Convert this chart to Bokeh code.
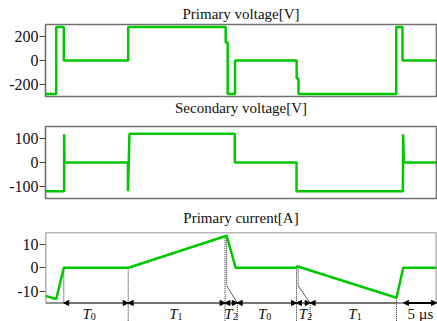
from bokeh.plotting import figure
from bokeh.layouts import column
from bokeh.models import (Range1d, FixedTicker, Arrow, NormalHead, ColumnDataSource,
                          PrintfTickFormatter, Title)
from bokeh.core.properties import value
from bokeh.embed import file_html
from bokeh.resources import INLINE

FONT = "Liberation Serif"
GREEN = "#00c800"
FRAME = "#707070"

# time axis in microseconds
t_start, t_end = 0.0, 59.24

# Primary voltage [V]
t_primary = [0, 1.62, 1.62, 2.77, 2.77, 12.53, 12.53, 27.3, 27.3, 27.6, 27.6, 28.72, 28.72,
             38.05, 38.05, 38.33, 38.33, 53.14, 53.14, 54.09, 54.09, 59.24]
v_primary = [-280, -280, 280, 280, 0, 0, 280, 280, 150, 150, -280, -280, 0,
             0, -150, -150, -280, -280, 280, 280, 0, 0]

# Secondary voltage [V]
t_secondary = [0, 2.83, 2.83, 2.88, 12.5, 12.5, 12.72, 28.68, 28.68, 38.03, 38.03,
               54.15, 54.18, 54.3, 59.24]
v_secondary = [-120, -120, 118, 0, 0, -120, 120, 120, 0, 0, -120,
               -120, 118, 0, 0]

# Primary current [A]
t_current = [0, 1.62, 2.77, 12.58, 27.2, 27.45, 28.8, 38.0, 38.12, 53.18, 54.2, 59.24]
i_current = [-12, -13.3, 0, 0, 13.4, 13.7, 0, 0, 0.6, -12.8, 0, 0]

titles = ["Primary voltage[V]", "Secondary voltage[V]", "Primary current[A]"]

# interval annotations (µs)
dim_start = [2.77, 12.53, 27.2, 29.05, 38.03]
dim_end = [12.53, 27.2, 29.05, 38.03, 40.1]
open_start, open_end = [40.1], [53.18]
scale_start, scale_end = [54.24], [59.24]
label_names = ["0", "1", "2", "0", "2", "1"]
label_x = [6.7, 19.85, 28.2, 33.3, 39.5, 47.0]
scale_label = "5 µs"
scale_label_x = 56.8

# dotted guide lines: x, top value, bottom value
guide_x = [2.77, 12.53, 27.2, 27.45, 29.05, 38.03, 38.28, 40.1, 53.18]
guide_top = [0, 0, 13.4, 13.7, -15, 0, 0.5, -15, -12.8]
guide_bot = [-15, -23, -23, -7.7, -23, -23, -7.7, -23, -23]
# leader lines
leader_x0 = [27.45, 38.28]
leader_y0 = [-7.7, -7.7]
leader_x1 = [29.05, 40.1]
leader_y1 = [-15, -15]


def style_title(t, standoff):
    t.align = "center"
    t.text_font = FONT
    t.text_font_style = "normal"
    t.text_font_size = "15px"
    t.text_color = "#111111"
    t.standoff = standoff


def make_fig(height, yr, ticks, title, top, bottom, standoff):
    p = figure(width=437, height=height, x_range=Range1d(t_start, t_end),
               y_range=Range1d(*yr), output_backend="svg", toolbar_location=None,
               x_axis_location=None, min_border_left=45, min_border_right=1,
               min_border_top=top, min_border_bottom=bottom)
    if title:
        p.title.text = title
        style_title(p.title, standoff)
    else:
        p.title = None
    p.xgrid.visible = False
    p.ygrid.visible = False
    ax = p.yaxis[0]
    ax.ticker = FixedTicker(ticks=ticks)
    ax.formatter = PrintfTickFormatter(format="%d")
    ax.axis_line_color = None
    ax.major_tick_out = 6
    ax.major_tick_in = 0
    ax.minor_tick_line_color = None
    ax.major_tick_line_color = "#444444"
    ax.major_tick_line_width = 1.2
    ax.major_label_standoff = 1
    ax.major_label_text_font = FONT
    ax.major_label_text_font_size = "16px"
    ax.major_label_text_color = "#111111"
    p.outline_line_color = FRAME
    p.outline_line_width = 1.6
    p.background_fill_color = "white"
    p.border_fill_color = "white"
    return p


p1 = make_fig(121, (-300, 300), [-200, 0, 200], titles[0], 24, 24, 5)
sub = Title(text=titles[1], vertical_align="top")
style_title(sub, 7)
p1.add_layout(sub, "below")
p1.line(t_primary, v_primary, line_color=GREEN, line_width=2.5)

p2 = make_fig(79, (-150, 150), [-100, 0, 100], None, 5, 2, 0)
p2.line(t_secondary, v_secondary, line_color=GREEN, line_width=2.5)

p3 = make_fig(121, (-22.9, 15), [-10, 0, 10], titles[2], 31, 0, 14)
p3.outline_line_color = None
# frame box (data frame spans -15..15)
p3.line([t_start, t_end, t_end, t_start, t_start], [-15, -15, 15, 15, -15],
        line_color=FRAME, line_width=1.6)
p3.segment(x0=guide_x, y0=guide_top, x1=guide_x, y1=guide_bot,
           line_color="#222222", line_width=1, line_dash="1 1")
p3.segment(x0=leader_x0, y0=leader_y0, x1=leader_x1, y1=leader_y1,
           line_color="#333333", line_width=0.8)
p3.line(t_current, i_current, line_color=GREEN, line_width=2.5)

head = dict(size=5, fill_color="black", line_color="black")
src_dim = ColumnDataSource(dict(x0=dim_start, x1=dim_end, y=[-15] * len(dim_start)))
p3.add_layout(Arrow(x_start="x0", y_start="y", x_end="x1", y_end="y", source=src_dim,
                    start=NormalHead(**head), end=NormalHead(**head),
                    line_color="#555555", line_width=1))
src_open = ColumnDataSource(dict(x0=open_start, x1=open_end, y=[-15]))
p3.add_layout(Arrow(x_start="x0", y_start="y", x_end="x1", y_end="y", source=src_open,
                    start=NormalHead(**head), end=None,
                    line_color="#555555", line_width=1))
src_scale = ColumnDataSource(dict(x0=scale_start, x1=scale_end, y=[-15]))
p3.add_layout(Arrow(x_start="x0", y_start="y", x_end="x1", y_end="y", source=src_scale,
                    start=NormalHead(**head), end=NormalHead(**head),
                    line_color="black", line_width=2))

label_y = [-19.6] * len(label_x)
p3.text(x=label_x, y=label_y, text=["T"] * len(label_x), text_font=value(FONT),
        text_font_style="italic", text_font_size="15px", text_align="right",
        text_baseline="alphabetic", x_offset=1, text_color="#111111")
p3.text(x=label_x, y=label_y, text=label_names, text_font=value(FONT),
        text_font_size="10px", text_align="left", text_baseline="alphabetic",
        x_offset=1, y_offset=3, text_color="#111111")
p3.text(x=[scale_label_x], y=[-19.6], text=[scale_label], text_font=value(FONT),
        text_font_size="15px", text_align="center", text_baseline="alphabetic",
        text_color="#111111")

layout = column(p1, p2, p3, spacing=0)
open("out.html", "w").write(file_html(layout, INLINE))
